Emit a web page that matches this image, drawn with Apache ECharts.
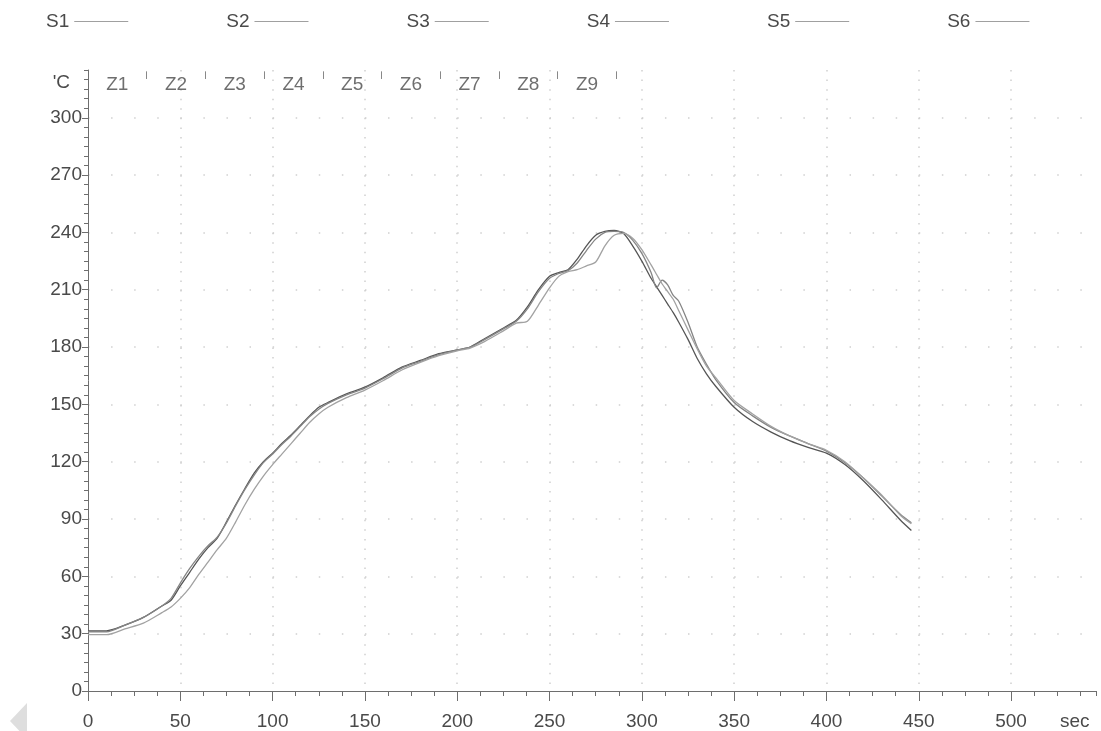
<!DOCTYPE html>
<html>
<head>
<meta charset="utf-8">
<script src="https://cdn.jsdelivr.net/npm/echarts@6/dist/echarts.min.js"></script>
<style>html,body{margin:0;padding:0;background:#fff}#c{width:1101px;height:731px}</style>
</head>
<body>
<div id="c"></div>
<script>
// ---- data ----
const seriesNames = ['S1', 'S2', 'S3', 'S4', 'S5', 'S6'];
const times = [0,10,20,30,40,45,50,55,60,65,70,75,80,85,90,95,100,105,110,115,120,125,130,140,150,160,170,180,190,200,207,215,225,232,238,244,250,255,260,265,270,275,280,285,290,295,300,305,308,311,314,317,320,325,330,335,340,350,360,370,380,390,400,410,420,430,440,446];
const s1 = [31.5,31.5,34.5,38.5,44.5,47.5,55,62,69,75,80,88.5,97.5,106,114,120,124.5,129.5,134,139,144,148.5,151,155.5,159,164,169.5,173,176.5,178.5,180,184.5,190,194,201,210,217,219,220.5,226,233,238.5,240.5,241,239.5,233,225,216,211.5,207,202.5,198,193,184,174,166,159.5,148.5,141,135.5,131,127.5,124.5,118.5,110,100,89.5,84];
const s2 = [31,31,34.5,38.5,44.5,48.5,56.5,64,70.5,76,80.5,88,97,105.5,113,119.5,124,129,133.5,138.5,143.5,147.5,150.5,155,158.5,163.5,169,172.5,176,178.5,180,184,189.5,193.5,200,209,216,218.5,220,224,230.5,236.5,240,240.5,240,236,229,219,211,215,212.5,207,204,193,180,171,163,151,144,138,133.5,129.5,125.5,119.5,111.5,102,92.5,88];
const s3 = [29.5,29.5,32.5,35.5,41,44,48.5,54,61,67.5,74,80,88.5,97.5,105.5,112.5,118.5,124,129.5,135,140.5,145,148.5,153.5,157.5,162.5,168,172,175.5,178,179.5,183,188.5,192.5,193.5,202,211,217,219.5,220.5,222.5,224.5,233,238.5,239.5,237,231,223,218,213,209,205,199,189,179,170,164,152,145,138.5,133.5,129.5,126,120,111.5,102.5,92,87.5];
const s4 = [];
const s5 = [];
const s6 = [];
const zoneNames = ['Z1','Z2','Z3','Z4','Z5','Z6','Z7','Z8','Z9'];
const zoneEdges = [0,31.8,63.6,95.4,127.2,159,190.8,222.6,254.4,286.2];
const xTickStep = 50, xMinorStep = 12.5, xMax = 546;
const yTickStep = 30, yMinorStep = 5, yMax = 325;

// ---- styles ----
const FONT = '"Liberation Sans", Arial, sans-serif';
const TXT = '#4a4a4a';
const AX = '#6e6e6e';
const DOT = '#d0d0d0';
const lineColors = ['#555555', '#858585', '#a2a2a2', '#999999', '#999999', '#999999'];

const gridLeft = 88, gridRight = 5, gridTop = 70, gridBottom = 39;
const W = 1101, H = 731;
const pxPerX = (W - gridLeft - gridRight) / xMax;
const pxPerY = (H - gridTop - gridBottom) / yMax;

const values = [s1, s2, s3, s4, s5, s6];
const chart = echarts.init(document.getElementById('c'), null, {renderer: 'canvas'});

const lineSeries = seriesNames.map((n, i) => ({
  name: n,
  type: 'line',
  xAxisIndex: 0,
  yAxisIndex: 0,
  data: values[i].map((v, k) => [times[k], v]),
  showSymbol: false,
  symbol: 'none',
  smooth: 0.25,
  lineStyle: {width: 1.3, color: lineColors[i]},
  itemStyle: {color: lineColors[i]},
  emphasis: {disabled: true},
  z: 3
}));

const zoneSeries = {
  name: 'zones',
  type: 'scatter',
  xAxisIndex: 0,
  yAxisIndex: 0,
  data: zoneNames.map((z, i) => [(zoneEdges[i] + zoneEdges[i + 1]) / 2, 317.5, z]),
  symbolSize: 1,
  itemStyle: {color: 'rgba(0,0,0,0)'},
  silent: true,
  emphasis: {disabled: true},
  label: {show: true, position: 'inside', formatter: p => p.data[2], color: TXT, fontSize: 19, fontFamily: FONT},
  markLine: {
    symbol: 'none',
    silent: true,
    animation: false,
    label: {show: false},
    lineStyle: {color: '#888', type: 'solid', width: 1},
    emphasis: {disabled: true},
    data: zoneEdges.slice(1).map(b => [{coord: [b, 320.3]}, {coord: [b, 324.3]}])
  }
};

chart.setOption({
  animation: false,
  backgroundColor: '#fff',
  textStyle: {fontFamily: FONT},
  grid: {left: gridLeft, right: gridRight, top: gridTop, bottom: gridBottom, containLabel: false},
  legend: {
    data: seriesNames,
    left: 41,
    top: 7,
    align: 'right',
    icon: 'rect',
    itemWidth: 54,
    itemHeight: 1,
    itemGap: 98,
    itemStyle: {color: '#a0a0a0'},
    textStyle: {color: TXT, fontSize: 19, fontFamily: FONT},
    selectedMode: false
  },
  xAxis: [{
    type: 'value', min: 0, max: xMax, interval: xTickStep, position: 'bottom',
    name: 'sec', nameLocation: 'end', nameGap: -36, nameMoveOverlap: false,
    nameTextStyle: {color: TXT, fontSize: 19, fontFamily: FONT, align: 'left', verticalAlign: 'top', padding: [21, 0, 0, 0]},
    axisLine: {show: true, onZero: false, lineStyle: {color: AX, width: 1}},
    axisTick: {show: true, length: 10, lineStyle: {color: AX}},
    axisLabel: {show: true, margin: 21, color: TXT, fontSize: 19, fontFamily: FONT, showMaxLabel: false},
    splitLine: {show: true, showMinLine: false, showMaxLine: false, lineStyle: {color: DOT, width: 1.5, type: [1.5, yMinorStep * pxPerY - 1.5]}}
  }, {
    type: 'value', min: 0, max: xMax, interval: xMinorStep, position: 'bottom',
    axisLine: {show: false, onZero: false},
    axisTick: {show: true, length: 5, lineStyle: {color: AX}},
    axisLabel: {show: false},
    splitLine: {show: false}
  }],
  yAxis: [{
    type: 'value', min: 0, max: yMax, interval: yTickStep, position: 'left',
    name: "'C", nameLocation: 'end', nameGap: -22, nameMoveOverlap: false,
    nameTextStyle: {color: TXT, fontSize: 19, fontFamily: FONT, align: 'right', verticalAlign: 'bottom', padding: [0, 18, 0, 0]},
    axisLine: {show: true, onZero: false, lineStyle: {color: AX, width: 1}},
    axisTick: {show: true, length: 6, lineStyle: {color: AX}},
    axisLabel: {show: true, margin: 6, color: TXT, fontSize: 19, fontFamily: FONT, showMaxLabel: false},
    splitLine: {show: true, showMinLine: false, showMaxLine: false, lineStyle: {color: DOT, width: 1.5, type: [1.5, xMinorStep * pxPerX - 1.5]}}
  }, {
    type: 'value', min: 0, max: yMax, interval: yMinorStep, position: 'left',
    axisLine: {show: false, onZero: false},
    axisTick: {show: true, length: 4, lineStyle: {color: AX}},
    axisLabel: {show: false},
    splitLine: {show: false}
  }],
  graphic: [{
    type: 'polygon',
    silent: true,
    shape: {points: [[27, 703], [27, 739], [10, 721]]},
    style: {fill: '#dedede'}
  }],
  series: lineSeries.concat([zoneSeries])
});
</script>
</body>
</html>
